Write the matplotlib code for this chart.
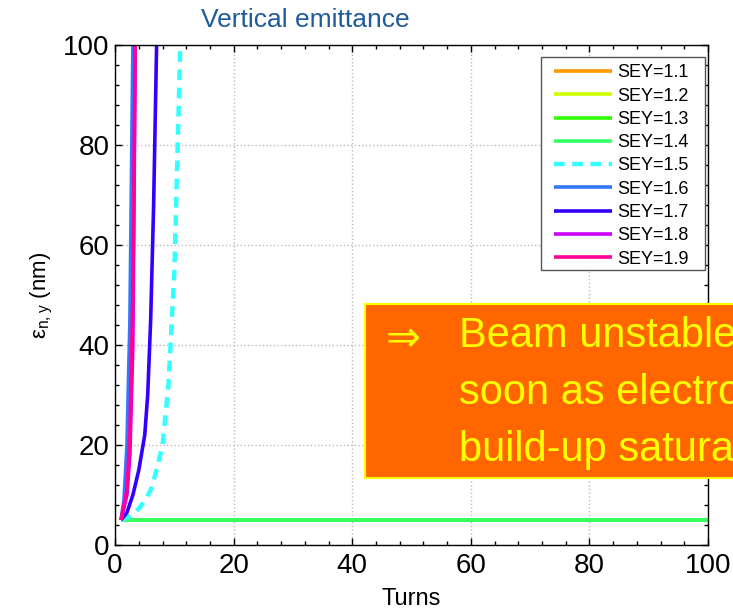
import numpy as np
import matplotlib.pyplot as plt
from matplotlib.ticker import AutoMinorLocator
from matplotlib.patches import Rectangle

plt.rcParams['font.family'] = ['Liberation Sans', 'DejaVu Sans']

# emittance vs turns for each SEY value
sey_labels = ['SEY=1.1', 'SEY=1.2', 'SEY=1.3', 'SEY=1.4', 'SEY=1.5',
              'SEY=1.6', 'SEY=1.7', 'SEY=1.8', 'SEY=1.9']
colors = ['#ff9900', '#ccff00', '#33ff00', '#33ff66', '#33ffff',
          '#3377ff', '#3300ff', '#cc00ff', '#ff0099']
styles = ['-', '-', '-', '-', '--', '-', '-', '-', '-']

flat_turns = [1, 100]
flat_eps = [5, 5]
turns_15 = [1, 2, 3, 4, 5, 6, 7, 8, 9, 10, 11]
eps_15 = [5, 5.4, 6.2, 7.3, 8.8, 11, 15, 20, 32, 55, 100]
turns_16 = [1, 1.5, 2, 2.5, 3]
eps_16 = [5, 9, 20, 45, 100]
turns_17 = [1, 2, 3, 4, 5, 5.5, 6, 6.5, 7]
eps_17 = [5, 6.5, 10, 15, 22, 30, 45, 68, 100]
turns_18 = [1, 2, 2.5, 3, 3.4]
eps_18 = [5, 10, 18, 40, 100]
turns_19 = [1, 2, 2.5, 3, 3.4]
eps_19 = [5, 11, 22, 50, 100]

series = [(flat_turns, flat_eps)] * 4 + [(turns_15, eps_15), (turns_16, eps_16),
                                         (turns_17, eps_17), (turns_18, eps_18),
                                         (turns_19, eps_19)]

fig = plt.figure(figsize=(7.33, 6.11), dpi=100)
ax = fig.add_axes([0.157, 0.108, 0.809, 0.818])

for (t, e), c, ls, lab in zip(series, colors, styles, sey_labels):
    ax.plot(t, e, color=c, ls=ls, lw=3.2 if ls == '--' else 2.6, label=lab,
            dashes=(2.4, 1.7) if ls == '--' else (None, None), solid_capstyle='butt')

ax.set_xlim(0, 100)
ax.set_ylim(0, 100)
ax.set_xticks([0, 20, 40, 60, 80, 100])
ax.set_yticks([0, 20, 40, 60, 80, 100])
ax.xaxis.set_minor_locator(AutoMinorLocator(5))
ax.yaxis.set_minor_locator(AutoMinorLocator(5))
ax.tick_params(which='both', direction='in', top=True, right=True, labelsize=20, width=1)
ax.tick_params(which='major', length=5)
ax.tick_params(axis='x', which='major', pad=6)
ax.tick_params(axis='y', which='major', pad=4)
ax.tick_params(which='minor', length=3)
ax.grid(True, which='major', ls=':', color='#bbbbbb', lw=1)
for s in ax.spines.values():
    s.set_linewidth(1)

ax.set_xlabel('Turns', fontsize=17, labelpad=6)
ax.set_ylabel(r'ε$_\mathregular{n,y}$ (nm)', fontsize=16, labelpad=6)

# legend frame drawn separately so the padding can differ per side
ax.add_patch(Rectangle((0.7184, 0.55), 0.2766, 0.426, transform=ax.transAxes,
                       facecolor='white', edgecolor='#555555', lw=1,
                       zorder=4.9, clip_on=False))
leg = ax.legend(loc='upper left', fontsize=13, frameon=False,
                handlelength=3.2, handletextpad=0.3, labelspacing=0.35,
                borderpad=0, borderaxespad=0, bbox_to_anchor=(0.7403, 0.962))

fig.text(0.416, 0.967, 'Vertical emittance', ha='center', va='center',
         fontsize=19, color='#1f5a9c')

# callout box running off the right edge
fig.patches.append(Rectangle((365 / 733, 1 - 478 / 611), 0.6, 174 / 611,
                             transform=fig.transFigure, facecolor='#ff6600',
                             edgecolor='#ffff00', lw=1.5))
fig.text(403 / 733, 1 - 340 / 611, '⇒', ha='center', va='center',
         fontsize=30, color='#ffff00')
fig.text(459 / 733, 1 - 393 / 611,
         'Beam unstable as\nsoon as electron\nbuild-up saturates',
         ha='left', va='center', fontsize=30, color='#ffff00', linespacing=1.56)

fig.savefig('out.png', dpi=100)
